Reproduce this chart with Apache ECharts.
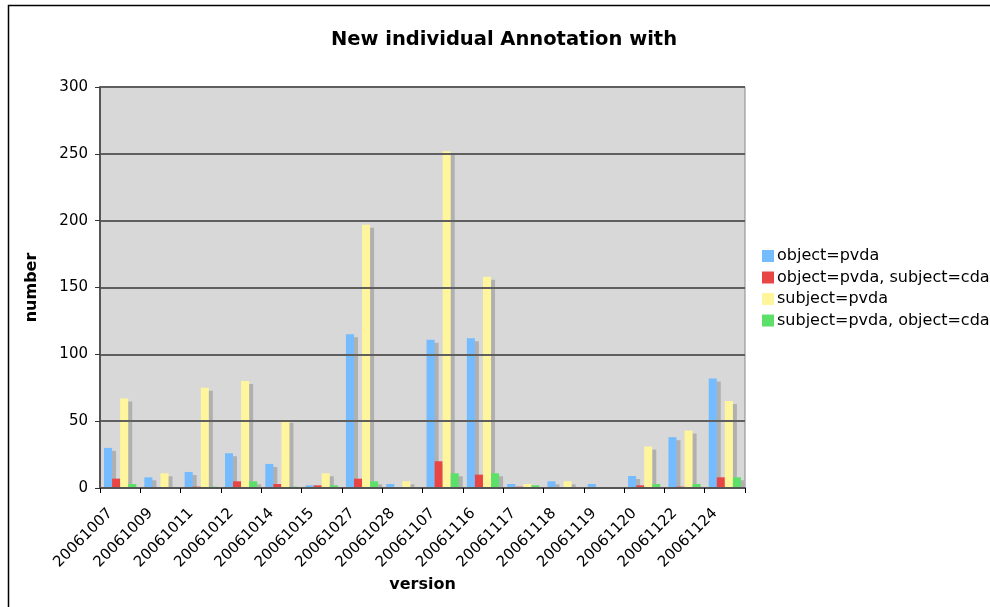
<!DOCTYPE html>
<html>
<head>
<meta charset="utf-8">
<script src="https://cdn.jsdelivr.net/npm/echarts@6/dist/echarts.min.js"></script>
<style>html,body{margin:0;padding:0;background:#fff}#c{width:990px;height:607px}</style>
</head>
<body>
<div id="c"></div>
<script>
var categories = ['20061007','20061009','20061011','20061012','20061014','20061015','20061027','20061028','20061107','20061116','20061117','20061118','20061119','20061120','20061122','20061124'];
var seriesNames = ['object=pvda','object=pvda, subject=cda','subject=pvda','subject=pvda, object=cda'];
var objPvda     = [30, 8, 12, 26, 18, 2, 115, 3, 111, 112, 3, 5, 3, 9, 38, 82];
var objPvdaSubjCda = [7, 0, 1, 5, 3, 2, 7, 0, 20, 10, 1, 0, 0, 2, 1, 8];
var subjPvda    = [67, 11, 75, 80, 51, 11, 197, 5, 252, 158, 3, 5, 0, 31, 43, 65];
var subjPvdaObjCda = [3, 0, 1, 5, 1, 2, 5, 0, 11, 11, 2, 0, 0, 3, 3, 8];
var yTicks = [0, 50, 100, 150, 200, 250, 300];

var colors = ['#75BBFF', '#E84545', '#FFF59D', '#5CE06A'];
var font = 'Verdana, "DejaVu Sans", sans-serif';
var allData = [objPvda, objPvdaSubjCda, subjPvda, subjPvdaObjCda];

var chart = echarts.init(document.getElementById('c'), null, {renderer: 'canvas'});
chart.setOption({
  animation: false,
  backgroundColor: '#ffffff',
  graphic: [{
    type: 'rect', z: -10,
    shape: {x: 8.5, y: 5.5, width: 1000, height: 620},
    style: {fill: 'none', stroke: '#000', lineWidth: 1.5}
  }, {
    type: 'rect', z: 5,
    shape: {x: 101, y: 489, width: 660, height: 8},
    style: {fill: '#ffffff'}
  }],
  title: {
    text: 'New individual Annotation with',
    left: 499, top: 25, textAlign: 'center',
    textStyle: {fontFamily: font, fontWeight: 'bold', fontSize: 19.5, color: '#000'}
  },
  legend: {
    orient: 'vertical', left: 762, top: 248, padding: 0,
    itemWidth: 12, itemHeight: 12, itemGap: 5.5,
    icon: 'rect',
    textStyle: {fontFamily: font, fontSize: 16, color: '#000', padding: [0,0,0,-2]},
    data: seriesNames
  },
  grid: {left: 100, top: 87, width: 645, height: 401, show: true, backgroundColor: '#D8D8D8', borderColor: '#888', borderWidth: 1},
  xAxis: {
    type: 'category', data: categories, z: 10,
    name: 'version', nameLocation: 'middle', nameGap: 89,
    nameTextStyle: {fontFamily: font, fontWeight: 'bold', fontSize: 16, color: '#000'},
    axisLine: {lineStyle: {color: '#555', width: 2}},
    axisTick: {show: true, length: 5, lineStyle: {color: '#000'}},
    axisLabel: {rotate: 45, fontFamily: font, fontSize: 15, color: '#000', margin: 13, padding: [0, 14, 0, 0]}
  },
  yAxis: {
    type: 'value', min: 0, max: 300, interval: 50, z: 10,
    name: 'number', nameLocation: 'middle', nameGap: 60, nameRotate: 90,
    nameTextStyle: {fontFamily: font, fontWeight: 'bold', fontSize: 16, color: '#000'},
    axisLine: {show: true, lineStyle: {color: '#555', width: 2}},
    axisTick: {show: true, length: 5, lineStyle: {color: '#333'}},
    axisLabel: {fontFamily: font, fontSize: 15, color: '#000', margin: 12,
      formatter: function(v){ return yTicks.indexOf(v) >= 0 ? String(v) : ''; }},
    splitLine: {lineStyle: {color: '#5f5f5f', width: 2}}
  },
  series: seriesNames.map(function(n, i){
    return {
      name: n, type: 'bar', data: allData[i],
      barGap: '0%', barCategoryGap: '20%',
      itemStyle: {color: colors[i], shadowColor: '#B0B0B0', shadowBlur: 0, shadowOffsetX: 4, shadowOffsetY: 3}
    };
  })
});
</script>
</body>
</html>
